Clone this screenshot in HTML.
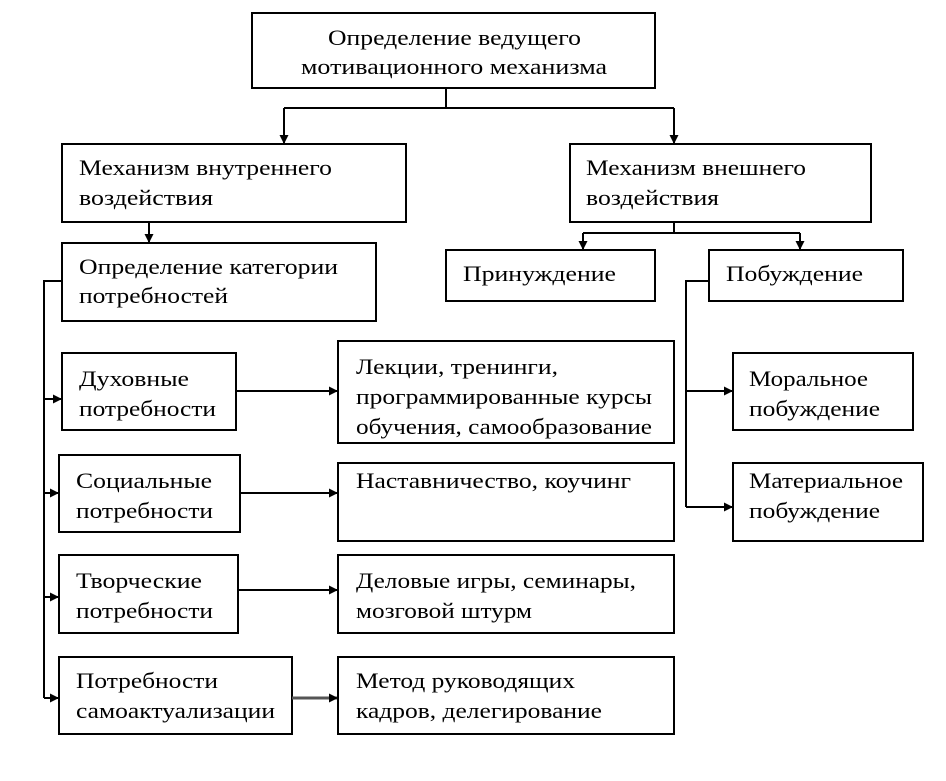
<!DOCTYPE html>
<html><head><meta charset="utf-8"><style>html,body{margin:0;padding:0;background:#fff}svg{display:block}</style></head>
<body>
<svg width="946" height="781" viewBox="0 0 946 781" xmlns="http://www.w3.org/2000/svg">
<defs><marker id="a" markerWidth="9" markerHeight="9" refX="8" refY="4.5" orient="auto" markerUnits="userSpaceOnUse"><path d="M0,0 L9,4.5 L0,9 z" fill="#000"/></marker></defs>
<g fill="none" stroke="#000" stroke-width="2">
<rect x="252" y="13" width="403" height="75"/>
<rect x="62" y="144" width="344" height="78"/>
<rect x="570" y="144" width="301" height="78"/>
<rect x="62" y="243" width="314" height="78"/>
<rect x="446" y="250" width="209" height="51"/>
<rect x="709" y="250" width="194" height="51"/>
<rect x="62" y="353" width="174" height="77"/>
<rect x="338" y="341" width="336" height="102"/>
<rect x="733" y="353" width="180" height="77"/>
<rect x="59" y="455" width="181" height="77"/>
<rect x="338" y="463" width="336" height="78"/>
<rect x="733" y="463" width="190" height="78"/>
<rect x="59" y="555" width="179" height="78"/>
<rect x="338" y="555" width="336" height="78"/>
<rect x="59" y="657" width="233" height="77"/>
<rect x="338" y="657" width="336" height="77"/>
<path d="M446,88 V108 M284,108 H674"/>
<path d="M284,108 V143" marker-end="url(#a)"/>
<path d="M674,108 V143" marker-end="url(#a)"/>
<path d="M149,222 V242" marker-end="url(#a)"/>
<path d="M674,222 V233 M583,233 H800"/>
<path d="M583,233 V249" marker-end="url(#a)"/>
<path d="M800,233 V249" marker-end="url(#a)"/>
<path d="M62,281 H44 V698"/>
<path d="M44,399 H61" marker-end="url(#a)"/>
<path d="M44,493 H58" marker-end="url(#a)"/>
<path d="M44,597 H58" marker-end="url(#a)"/>
<path d="M44,698 H58" marker-end="url(#a)"/>
<path d="M236,391 H337" marker-end="url(#a)"/>
<path d="M240,493 H337" marker-end="url(#a)"/>
<path d="M238,590 H337" marker-end="url(#a)"/>
<path d="M292,698 H337" marker-end="url(#a)" stroke="#555" stroke-width="3"/>
<path d="M709,281 H686 V507"/>
<path d="M686,391 H732" marker-end="url(#a)"/>
<path d="M686,507 H732" marker-end="url(#a)"/>
</g>
<g font-family="'Liberation Serif', 'DejaVu Serif', serif" font-size="22" fill="#000">
<text x="328" y="45" textLength="253" lengthAdjust="spacingAndGlyphs">Определение ведущего</text>
<text x="301" y="74" textLength="306" lengthAdjust="spacingAndGlyphs">мотивационного механизма</text>
<text x="79" y="175" textLength="253" lengthAdjust="spacingAndGlyphs">Механизм внутреннего</text>
<text x="79" y="205" textLength="134" lengthAdjust="spacingAndGlyphs">воздействия</text>
<text x="586" y="175" textLength="220" lengthAdjust="spacingAndGlyphs">Механизм внешнего</text>
<text x="586" y="205" textLength="133" lengthAdjust="spacingAndGlyphs">воздействия</text>
<text x="79" y="274" textLength="259" lengthAdjust="spacingAndGlyphs">Определение категории</text>
<text x="79" y="303" textLength="149" lengthAdjust="spacingAndGlyphs">потребностей</text>
<text x="463" y="281" textLength="153" lengthAdjust="spacingAndGlyphs">Принуждение</text>
<text x="726" y="281" textLength="137" lengthAdjust="spacingAndGlyphs">Побуждение</text>
<text x="79" y="386" textLength="110" lengthAdjust="spacingAndGlyphs">Духовные</text>
<text x="79" y="416" textLength="137" lengthAdjust="spacingAndGlyphs">потребности</text>
<text x="356" y="374" textLength="202" lengthAdjust="spacingAndGlyphs">Лекции, тренинги,</text>
<text x="356" y="404" textLength="296" lengthAdjust="spacingAndGlyphs">программированные курсы</text>
<text x="356" y="434" textLength="296" lengthAdjust="spacingAndGlyphs">обучения, самообразование</text>
<text x="749" y="386" textLength="119" lengthAdjust="spacingAndGlyphs">Моральное</text>
<text x="749" y="416" textLength="131" lengthAdjust="spacingAndGlyphs">побуждение</text>
<text x="76" y="488" textLength="136" lengthAdjust="spacingAndGlyphs">Социальные</text>
<text x="76" y="518" textLength="137" lengthAdjust="spacingAndGlyphs">потребности</text>
<text x="356" y="488" textLength="275" lengthAdjust="spacingAndGlyphs">Наставничество, коучинг</text>
<text x="749" y="488" textLength="154" lengthAdjust="spacingAndGlyphs">Материальное</text>
<text x="749" y="518" textLength="131" lengthAdjust="spacingAndGlyphs">побуждение</text>
<text x="76" y="588" textLength="126" lengthAdjust="spacingAndGlyphs">Творческие</text>
<text x="76" y="618" textLength="137" lengthAdjust="spacingAndGlyphs">потребности</text>
<text x="356" y="588" textLength="280" lengthAdjust="spacingAndGlyphs">Деловые игры, семинары,</text>
<text x="356" y="618" textLength="176" lengthAdjust="spacingAndGlyphs">мозговой штурм</text>
<text x="76" y="688" textLength="142" lengthAdjust="spacingAndGlyphs">Потребности</text>
<text x="76" y="718" textLength="199" lengthAdjust="spacingAndGlyphs">самоактуализации</text>
<text x="356" y="688" textLength="219" lengthAdjust="spacingAndGlyphs">Метод руководящих</text>
<text x="356" y="718" textLength="246" lengthAdjust="spacingAndGlyphs">кадров, делегирование</text>
</g>
</svg>
</body></html>
